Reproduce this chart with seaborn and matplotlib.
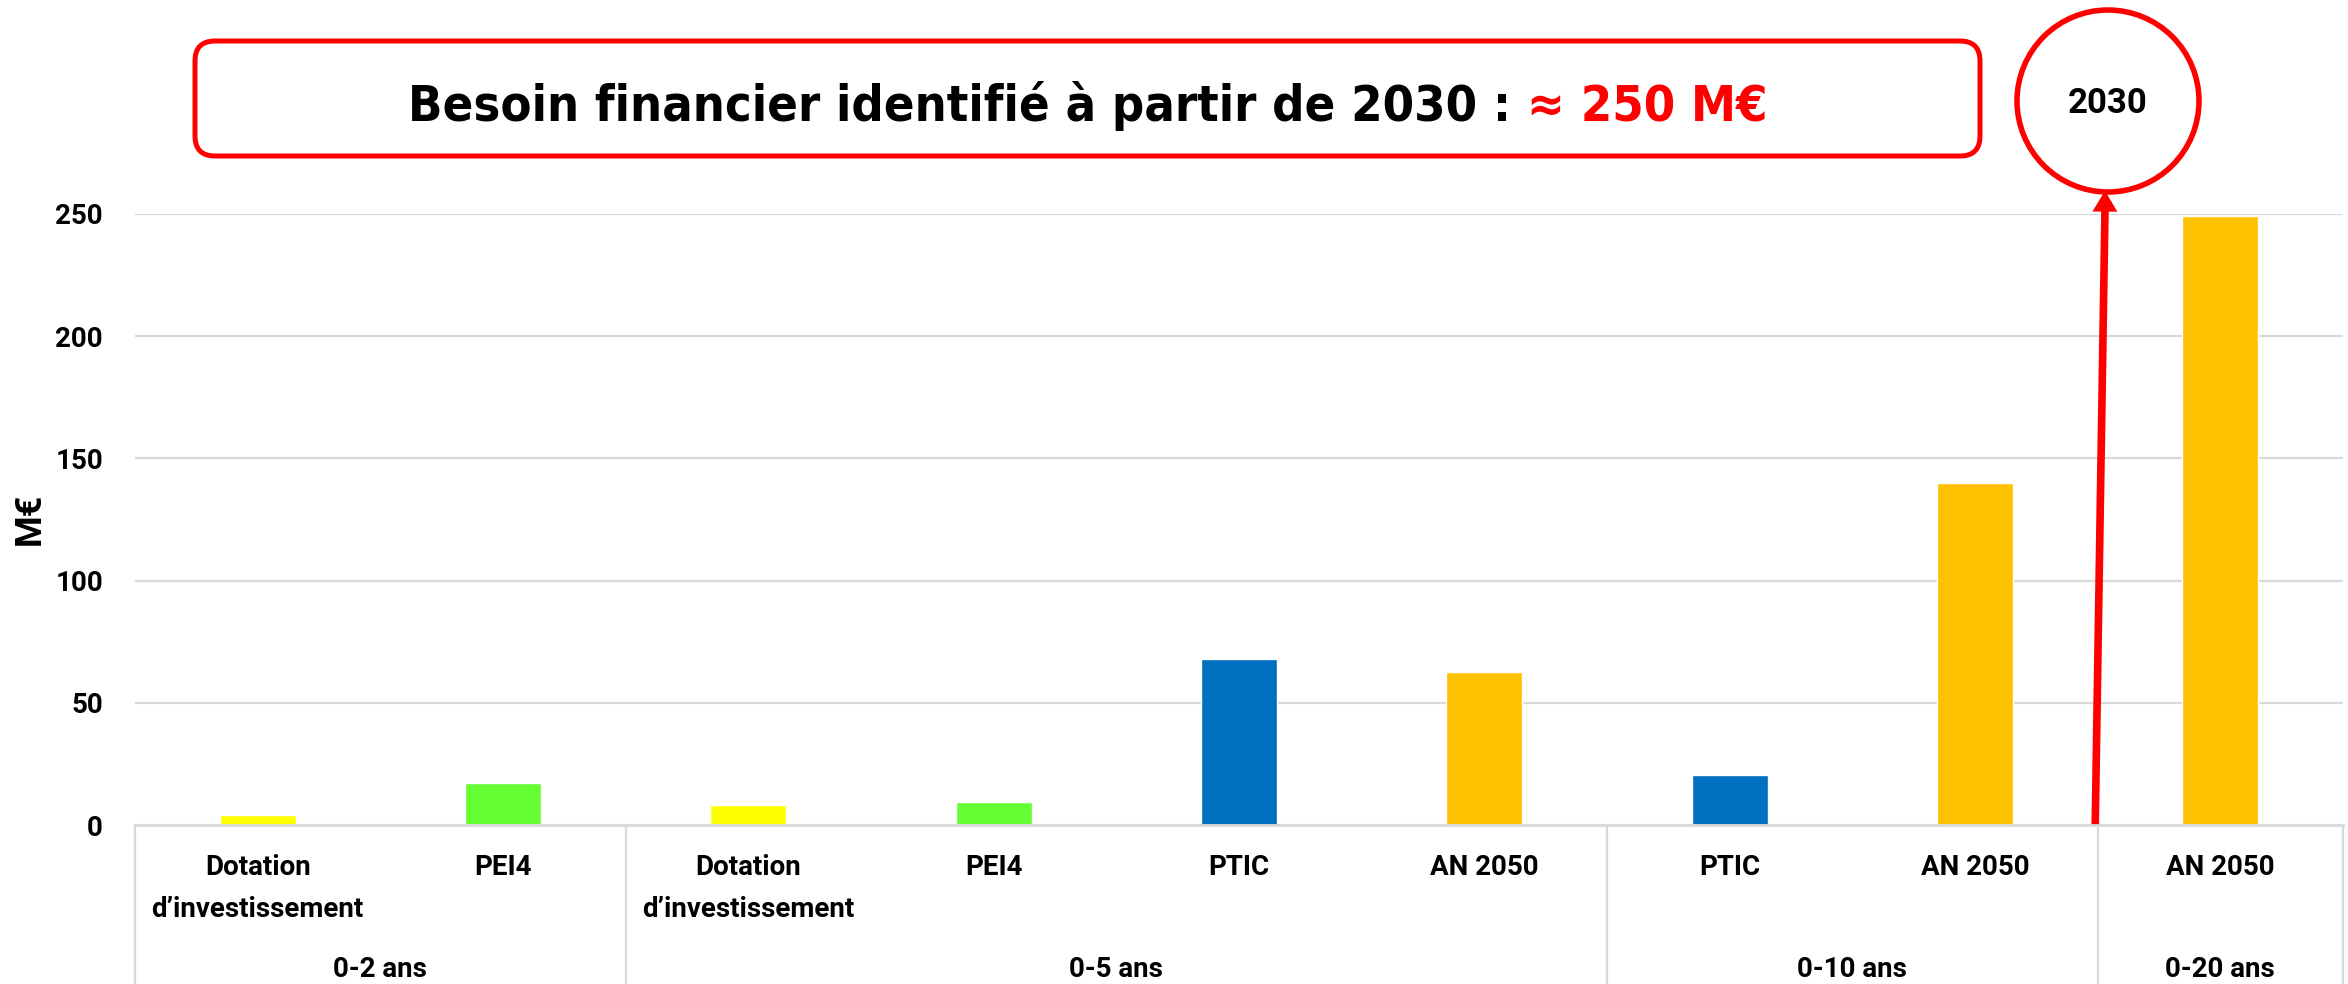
import matplotlib
matplotlib.use("Agg")
import matplotlib.pyplot as plt
from matplotlib.patches import FancyBboxPatch, Ellipse
import seaborn as sns
import pandas as pd

# --- data -----------------------------------------------------------------
groups = ["0-2 ans", "0-5 ans", "0-10 ans", "0-20 ans"]
group_items = [
    ["Dotation\nd’investissement", "PEI4"],
    ["Dotation\nd’investissement", "PEI4", "PTIC", "AN 2050"],
    ["PTIC", "AN 2050"],
    ["AN 2050"],
]
values = [4.2, 17, 8, 9.6, 68, 62.4, 20.6, 140, 249]
yticks = [0, 50, 100, 150, 200, 250]
colors = {
    "Dotation\nd’investissement": "#FFFF00",
    "PEI4": "#66FF33",
    "PTIC": "#0070C0",
    "AN 2050": "#FFC000",
}
title_black = "Besoin financier identifié à partir de 2030 : "
title_red = "≈ 250 M€"
marker_year = "2030"
marker_value = 250

rows = []
for g, items in zip(groups, group_items):
    for it in items:
        rows.append({"key": f"{g} | {it}", "item": it, "group": g})
df = pd.DataFrame(rows)
df["value"] = values

# --- figure ----------------------------------------------------------------
W, H, DPI = 2348, 984, 100
sns.set_theme(style="white")
plt.rcParams["font.family"] = ["Roboto", "DejaVu Sans"]
for key in ["text.color", "axes.labelcolor", "xtick.color", "ytick.color"]:
    plt.rcParams[key] = "black"
fig = plt.figure(figsize=(W / DPI, H / DPI), dpi=DPI, facecolor="white")

x0, x1, y_top, y_zero = 135, 2343, 214, 825
ax = fig.add_axes([x0 / W, 1 - y_zero / H, (x1 - x0) / W, (y_zero - y_top) / H])

sns.barplot(data=df, x="key", y="value", hue="item", palette=colors,
            order=list(df["key"]), width=0.31, dodge=False, saturation=1,
            legend=False, ax=ax)

LBL = 20
ax.set_xlim(-0.5, len(df) - 0.5)
ax.set_ylim(0, 250)
ax.set_yticks(yticks)
ax.set_yticklabels([str(v) for v in yticks], fontsize=LBL, fontweight="bold",
                   color="black")
ax.set_xticks(range(len(df)))
ax.set_xticklabels(df["item"], fontsize=LBL, fontweight="bold",
                   linespacing=1.72, va="top", color="black")
ax.tick_params(axis="y", length=0, pad=23)
ax.tick_params(axis="x", length=0, pad=21)
ax.set_xlabel("")
ax.set_ylabel("")
ax.yaxis.grid(True, color="#D9D9D9", lw=1.6)
ax.set_axisbelow(True)
for s in ["top", "right", "left"]:
    ax.spines[s].set_visible(False)
ax.spines["bottom"].set_color("#D9D9D9")
ax.spines["bottom"].set_linewidth(2)

fig.text(30 / W, 1 - 519 / H, "M€", rotation=90, ha="center", va="center",
         fontsize=26, fontweight="bold", color="black")

# group separators and group labels below the category labels
xt = ax.get_xaxis_transform()
bottom_ax = -(H - y_zero) / (y_zero - y_top)
start = 0
bounds = [-0.5]
for g, items in zip(groups, group_items):
    end = start + len(items)
    bounds.append(end - 0.5)
    ax.text((start + end - 1) / 2, -(977 - y_zero) / (y_zero - y_top), g,
            transform=xt, ha="center", va="baseline",
            fontsize=LBL, fontweight="bold", color="black")
    start = end
for b in bounds:
    ax.plot([b, b], [0, bottom_ax], transform=xt, color="#D9D9D9", lw=1.6,
            clip_on=False)

# arrow pointing to the year marker
arrow_x0 = bounds[-2] - 0.01
arrow_x1 = bounds[-2] + 0.03
tip = marker_value + 9.5
ax.plot([arrow_x0, arrow_x1], [0, tip - 7], color="red", lw=5.5,
        clip_on=False, solid_capstyle="butt")
ax.annotate("", xy=(arrow_x1, tip), xytext=(arrow_x1 - 0.0006, tip - 9),
            arrowprops=dict(arrowstyle="-|>,head_length=0.75,head_width=0.45",
                            mutation_scale=20, lw=0, color="red",
                            shrinkA=0, shrinkB=0),
            annotation_clip=False)

# year marker circle
px = fig.dpi_scale_trans
cx, cy, r = 2108, 101, 91
fig.add_artist(Ellipse((cx / DPI, (H - cy) / DPI), 2 * r / DPI, 2 * r / DPI,
                       transform=px, fill=False, ec="red", lw=4))
fig.text(cx / W, 1 - 113 / H, marker_year, ha="center", va="baseline",
         fontsize=25, fontweight="bold", color="black")

# headline box
bx0, bx1, by0, by1 = 195, 1980, 41, 156
fig.add_artist(FancyBboxPatch((bx0 / DPI, (H - by1) / DPI),
                              (bx1 - bx0) / DPI, (by1 - by0) / DPI,
                              boxstyle="round,pad=0,rounding_size=0.2",
                              transform=px, fill=False, ec="red", lw=3.6))
base_y = 1 - 121 / H
title_kw = dict(ha="left", va="baseline", fontweight="bold",
                family="DejaVu Sans", fontstretch="condensed")
tb = fig.text(0, base_y, title_black, color="black", fontsize=37, **title_kw)
tr = fig.text(0, base_y, title_red, color="red", fontsize=37, **title_kw)
renderer = fig.canvas.get_renderer()
wb = tb.get_window_extent(renderer).width
wr = tr.get_window_extent(renderer).width
# fit the headline to its measured span inside the box
scale = 1362 / (wb + wr)
if scale < 1:
    for t in (tb, tr):
        t.set_fontsize(37 * scale)
    wb = tb.get_window_extent(renderer).width
    wr = tr.get_window_extent(renderer).width
left = (bx0 + bx1) / 2 - (wb + wr) / 2
tb.set_x(left / W)
tr.set_x((left + wb) / W)

fig.savefig("out.png", dpi=DPI, facecolor="white")
